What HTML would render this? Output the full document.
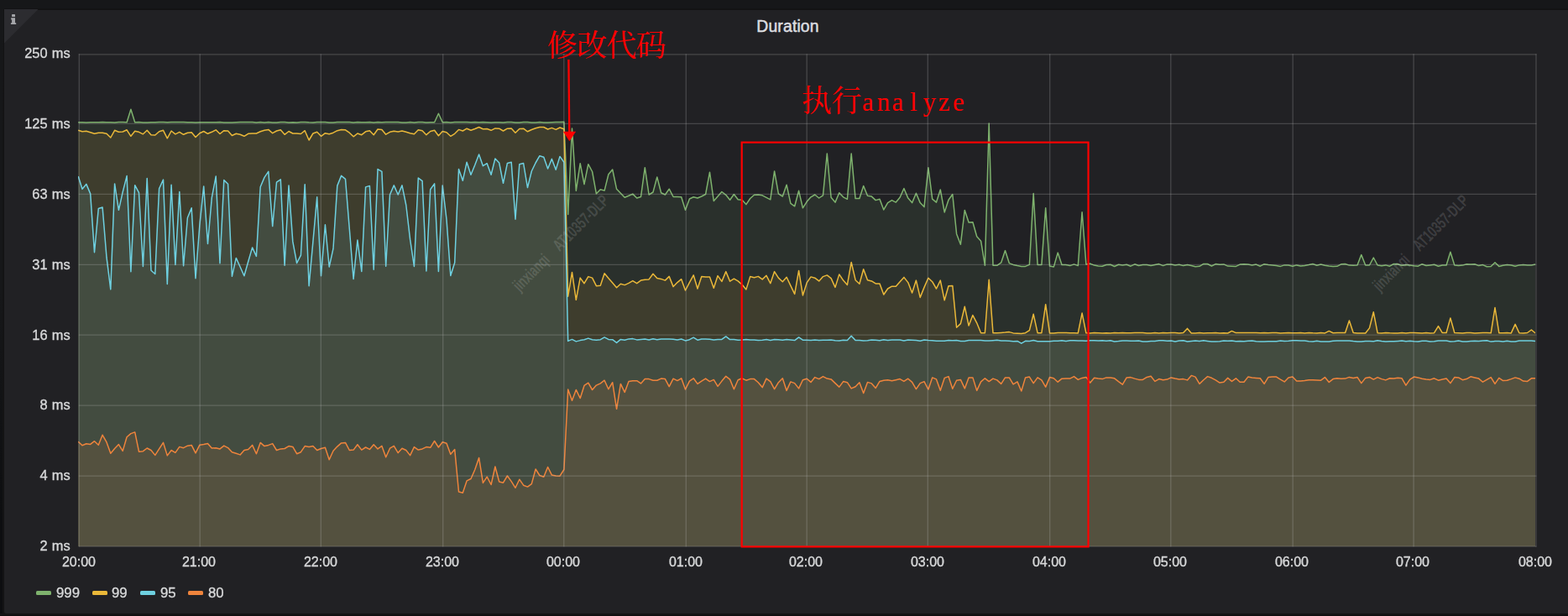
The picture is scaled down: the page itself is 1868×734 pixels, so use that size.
<!DOCTYPE html>
<html><head><meta charset="utf-8"><title>Duration</title>
<style>
html,body{margin:0;padding:0;}
body{width:1868px;height:734px;background:#161719;overflow:hidden;position:relative;font-family:"Liberation Sans",sans-serif;color:#d8d9da;}
.panel{position:absolute;left:4px;top:10px;width:1870px;height:719px;background:#212124;border:1px solid #131314;border-top-width:2px;border-radius:3px;}
.edge{position:absolute;left:0;top:0;width:3px;height:734px;background:linear-gradient(#161719 0,#161719 350px,#0d0e10 620px);}
.edge2{position:absolute;left:3px;top:0;width:2px;height:734px;background:linear-gradient(#161719 0,#161719 30px,#141415 150px);}
.edge3{position:absolute;left:0;top:731px;width:1868px;height:2px;background:#141415;}
.edgeb{position:absolute;left:0;top:733px;width:1868px;height:1px;background:#0e0e10;}
.title{position:absolute;left:0;top:20px;width:1877px;text-align:center;font-size:19.4px;line-height:22px;color:#dcdde0;-webkit-text-stroke:0.5px #dcdde0;letter-spacing:0.15px;}
.yl{-webkit-text-stroke:0.35px #d8d9da;position:absolute;left:0;width:83.6px;text-align:right;font-size:16.4px;word-spacing:0.6px;will-change:transform;line-height:18px;white-space:nowrap;}
.xl{-webkit-text-stroke:0.35px #d8d9da;will-change:transform;position:absolute;top:661px;width:80px;text-align:center;font-size:16px;line-height:18px;}
.lg{-webkit-text-stroke:0.35px #d8d9da;will-change:transform;position:absolute;top:698px;font-size:16.8px;line-height:18px;}
.sw{position:absolute;top:704px;width:18px;height:5px;border-radius:1.5px;}
</style></head><body>
<div class="edge"></div><div class="edge2"></div><div class="edge3"></div><div class="edgeb"></div><div class="panel"></div>
<svg width="1868" height="734" viewBox="0 0 1868 734" style="position:absolute;left:0;top:0">
<polygon points="5,11 45.5,11 5,51.5" fill="#2c2c30"/>
<g fill="#a4a5a9"><rect x="14.1" y="17.1" width="3.9" height="2.8" rx="0.5"/><path d="M13.2 21.2H18V27.2H19.2V29.1H12.9V27.2H14.1V23.5H13.2Z"/></g>
<clipPath id="cp"><rect x="93.0" y="63.8" width="1736.2" height="587.3"/></clipPath>
<g clip-path="url(#cp)" fill="none" stroke-linejoin="round">
<path d="M93.2 145.7 L98 145.7 L102.8 146 L107.7 145.7 L112.5 145.7 L117.3 145.8 L122.1 145.5 L127 145.7 L131.8 145.8 L136.6 145.9 L141.4 145.4 L146.2 145.6 L151.1 145.7 L155.9 130.3 L160.7 145.7 L165.5 145.4 L170.4 146 L175.2 146 L180 145.8 L184.8 145.8 L189.6 145.5 L194.5 145.4 L199.3 145.7 L204.1 145.4 L208.9 145.5 L213.8 145.5 L218.6 145.4 L223.4 145.7 L228.2 145.7 L233 145.9 L237.9 145.7 L242.7 145.8 L247.5 145.7 L252.3 145.8 L257.2 145.7 L262 145.5 L266.8 146 L271.6 146 L276.4 145.9 L281.3 145.8 L286.1 145.6 L290.9 145.5 L295.7 145.6 L300.6 145.4 L305.4 145.9 L310.2 145.6 L315 145.9 L319.8 145.6 L324.7 146 L329.5 145.9 L334.3 145.4 L339.1 145.5 L344 146 L348.8 145.7 L353.6 146 L358.4 145.6 L363.2 145.4 L368.1 145.8 L372.9 145.9 L377.7 145.5 L382.5 145.4 L387.4 145.6 L392.2 146 L397 145.9 L401.8 145.4 L406.6 145.5 L411.5 145.4 L416.3 145.4 L421.1 145.9 L425.9 145.5 L430.8 145.7 L435.6 145.7 L440.4 145.5 L445.2 145.9 L450 145.4 L454.9 145.8 L459.7 145.4 L464.5 145.6 L469.3 145.5 L474.2 145.5 L479 146 L483.8 145.9 L488.6 145.6 L493.4 146 L498.3 145.5 L503.1 145.6 L507.9 145.9 L512.7 145.8 L517.6 145.7 L522.4 135.3 L527.2 145.7 L532 145.5 L536.8 145.9 L541.7 145.6 L546.5 145.6 L551.3 145.4 L556.1 145.4 L561 145.8 L565.8 145.5 L570.6 145.8 L575.4 145.6 L580.2 145.7 L585.1 146 L589.9 145.7 L594.7 145.8 L599.5 146 L604.4 145.5 L609.2 145.5 L614 146 L618.8 145.9 L623.6 145.5 L628.5 145.5 L633.3 145.9 L638.1 146 L642.9 145.5 L647.8 146 L652.6 146 L657.4 145.8 L662.2 145.6 L667 145.4 L671.9 145.3 L676.7 255.4 L681.5 153.1 L686.3 227.3 L691.2 194.7 L696 219.5 L700.8 195.7 L705.6 204.5 L710.4 230.8 L715.3 225.8 L720.1 227.1 L724.9 207.8 L729.7 202 L734.6 225.3 L739.4 230.3 L744.2 235.3 L749 233.3 L753.8 231.1 L758.7 236 L763.5 234.5 L768.3 199.7 L773.1 232 L778 229 L782.8 210.9 L787.6 229.8 L792.4 232 L797.2 225.2 L802.1 234.5 L806.9 234.5 L811.7 234.8 L816.5 250.3 L821.4 237 L826.2 234.8 L831 236 L835.8 234 L840.6 231.5 L845.5 205.2 L850.3 239.5 L855.1 234 L859.9 228.5 L864.8 232.3 L869.6 238.3 L874.4 231.5 L879.2 237.8 L884 238.3 L888.9 243.6 L893.7 236.5 L898.5 232.3 L903.3 232 L908.2 232.8 L913 235.3 L917.8 237.8 L922.6 203.9 L927.4 230.8 L932.3 234 L937.1 220.2 L941.9 242.3 L946.7 245.8 L951.6 227.3 L956.4 247.8 L961.2 240.3 L966 234.8 L970.8 232 L975.7 236 L980.5 232.8 L985.3 183.1 L990.1 235.3 L995 241.1 L999.8 229.8 L1004.6 234.8 L1009.4 237.3 L1014.2 183.1 L1019.1 236.6 L1023.9 236.6 L1028.7 221.5 L1033.5 233.3 L1038.4 234.1 L1043.2 238.6 L1048 237.3 L1052.8 249.9 L1057.6 241.6 L1062.5 238.6 L1067.3 241.1 L1072.1 235.3 L1076.9 224.5 L1081.8 236.1 L1086.6 241.6 L1091.4 230.3 L1096.2 241.6 L1101 246.6 L1105.9 199.7 L1110.7 237.1 L1115.5 241.1 L1120.3 226 L1125.2 252.9 L1130 238.3 L1134.8 231.5 L1139.6 278.7 L1144.4 291.2 L1149.3 250.4 L1154.1 264.9 L1158.9 264.7 L1163.7 281.7 L1168.6 287.2 L1173.4 316.3 L1178.2 147 L1183 316.3 L1187.8 316.3 L1192.7 312.9 L1197.5 298.6 L1202.3 313.6 L1207.1 315.4 L1212 316.6 L1216.8 317.4 L1221.6 317.4 L1226.4 315.4 L1231.2 230.6 L1236.1 315.4 L1240.9 315.4 L1245.7 247.7 L1250.5 317.1 L1255.4 317.9 L1260.2 301.1 L1265 315.4 L1269.8 315.4 L1274.6 316.6 L1279.5 314.9 L1284.3 316.6 L1289.1 252.7 L1293.9 314.9 L1298.8 314.1 L1303.6 316.1 L1308.4 316.9 L1313.2 317.3 L1318 315.5 L1322.9 315.2 L1327.7 317.5 L1332.5 315.2 L1337.3 315.9 L1342.2 315.2 L1347 317.2 L1351.8 314.8 L1356.6 316.5 L1361.4 315.6 L1366.3 315.5 L1371.1 316.6 L1375.9 315.6 L1380.7 314.6 L1385.6 316.6 L1390.4 314.9 L1395.2 315.1 L1400 316.1 L1404.8 315.3 L1409.7 316.6 L1414.5 315.5 L1419.3 316.5 L1424.1 317.7 L1429 317.3 L1433.8 314.4 L1438.6 314.5 L1443.4 317 L1448.2 314.6 L1453.1 315.3 L1457.9 314.9 L1462.7 317.1 L1467.5 317.3 L1472.4 317.4 L1477.2 315.1 L1482 314.7 L1486.8 315.1 L1491.6 315.9 L1496.5 315.1 L1501.3 317.2 L1506.1 314.7 L1510.9 315.6 L1515.8 315.9 L1520.6 316.6 L1525.4 317.4 L1530.2 315.9 L1535 316.1 L1539.9 317.2 L1544.7 315.9 L1549.5 316.9 L1554.3 316.4 L1559.2 315.6 L1564 314.5 L1568.8 316.2 L1573.6 315.1 L1578.4 316.2 L1583.3 317 L1588.1 317.6 L1592.9 317.3 L1597.7 314.8 L1602.6 314.5 L1607.4 316.1 L1612.2 316.2 L1617 316 L1621.8 303.6 L1626.7 316 L1631.5 316 L1636.3 307 L1641.1 316 L1646 316.7 L1650.8 315.9 L1655.6 317.2 L1660.4 314.5 L1665.2 314.8 L1670.1 316.2 L1674.9 315.6 L1679.7 315.9 L1684.5 316.8 L1689.4 317.2 L1694.2 314.7 L1699 316.5 L1703.8 315.9 L1708.6 315.2 L1713.5 317.3 L1718.3 316.1 L1723.1 316 L1727.9 300.3 L1732.8 316 L1737.6 316.6 L1742.4 316.1 L1747.2 314.8 L1752 315.1 L1756.9 314.8 L1761.7 316.6 L1766.5 315.6 L1771.3 317.8 L1776.2 317.5 L1781 312.8 L1785.8 317.4 L1790.6 316.2 L1795.4 315.6 L1800.3 316.1 L1805.1 317.3 L1809.9 315.9 L1814.7 315.5 L1819.6 316.1 L1824.4 315.9 L1829.2 315.1 L1829.2 651.1 L93.2 651.1 Z" fill="#7EB26D" fill-opacity="0.104" stroke="none"/>
<path d="M93.2 145.7 L98 145.7 L102.8 146 L107.7 145.7 L112.5 145.7 L117.3 145.8 L122.1 145.5 L127 145.7 L131.8 145.8 L136.6 145.9 L141.4 145.4 L146.2 145.6 L151.1 145.7 L155.9 130.3 L160.7 145.7 L165.5 145.4 L170.4 146 L175.2 146 L180 145.8 L184.8 145.8 L189.6 145.5 L194.5 145.4 L199.3 145.7 L204.1 145.4 L208.9 145.5 L213.8 145.5 L218.6 145.4 L223.4 145.7 L228.2 145.7 L233 145.9 L237.9 145.7 L242.7 145.8 L247.5 145.7 L252.3 145.8 L257.2 145.7 L262 145.5 L266.8 146 L271.6 146 L276.4 145.9 L281.3 145.8 L286.1 145.6 L290.9 145.5 L295.7 145.6 L300.6 145.4 L305.4 145.9 L310.2 145.6 L315 145.9 L319.8 145.6 L324.7 146 L329.5 145.9 L334.3 145.4 L339.1 145.5 L344 146 L348.8 145.7 L353.6 146 L358.4 145.6 L363.2 145.4 L368.1 145.8 L372.9 145.9 L377.7 145.5 L382.5 145.4 L387.4 145.6 L392.2 146 L397 145.9 L401.8 145.4 L406.6 145.5 L411.5 145.4 L416.3 145.4 L421.1 145.9 L425.9 145.5 L430.8 145.7 L435.6 145.7 L440.4 145.5 L445.2 145.9 L450 145.4 L454.9 145.8 L459.7 145.4 L464.5 145.6 L469.3 145.5 L474.2 145.5 L479 146 L483.8 145.9 L488.6 145.6 L493.4 146 L498.3 145.5 L503.1 145.6 L507.9 145.9 L512.7 145.8 L517.6 145.7 L522.4 135.3 L527.2 145.7 L532 145.5 L536.8 145.9 L541.7 145.6 L546.5 145.6 L551.3 145.4 L556.1 145.4 L561 145.8 L565.8 145.5 L570.6 145.8 L575.4 145.6 L580.2 145.7 L585.1 146 L589.9 145.7 L594.7 145.8 L599.5 146 L604.4 145.5 L609.2 145.5 L614 146 L618.8 145.9 L623.6 145.5 L628.5 145.5 L633.3 145.9 L638.1 146 L642.9 145.5 L647.8 146 L652.6 146 L657.4 145.8 L662.2 145.6 L667 145.4 L671.9 145.3 L676.7 255.4 L681.5 153.1 L686.3 227.3 L691.2 194.7 L696 219.5 L700.8 195.7 L705.6 204.5 L710.4 230.8 L715.3 225.8 L720.1 227.1 L724.9 207.8 L729.7 202 L734.6 225.3 L739.4 230.3 L744.2 235.3 L749 233.3 L753.8 231.1 L758.7 236 L763.5 234.5 L768.3 199.7 L773.1 232 L778 229 L782.8 210.9 L787.6 229.8 L792.4 232 L797.2 225.2 L802.1 234.5 L806.9 234.5 L811.7 234.8 L816.5 250.3 L821.4 237 L826.2 234.8 L831 236 L835.8 234 L840.6 231.5 L845.5 205.2 L850.3 239.5 L855.1 234 L859.9 228.5 L864.8 232.3 L869.6 238.3 L874.4 231.5 L879.2 237.8 L884 238.3 L888.9 243.6 L893.7 236.5 L898.5 232.3 L903.3 232 L908.2 232.8 L913 235.3 L917.8 237.8 L922.6 203.9 L927.4 230.8 L932.3 234 L937.1 220.2 L941.9 242.3 L946.7 245.8 L951.6 227.3 L956.4 247.8 L961.2 240.3 L966 234.8 L970.8 232 L975.7 236 L980.5 232.8 L985.3 183.1 L990.1 235.3 L995 241.1 L999.8 229.8 L1004.6 234.8 L1009.4 237.3 L1014.2 183.1 L1019.1 236.6 L1023.9 236.6 L1028.7 221.5 L1033.5 233.3 L1038.4 234.1 L1043.2 238.6 L1048 237.3 L1052.8 249.9 L1057.6 241.6 L1062.5 238.6 L1067.3 241.1 L1072.1 235.3 L1076.9 224.5 L1081.8 236.1 L1086.6 241.6 L1091.4 230.3 L1096.2 241.6 L1101 246.6 L1105.9 199.7 L1110.7 237.1 L1115.5 241.1 L1120.3 226 L1125.2 252.9 L1130 238.3 L1134.8 231.5 L1139.6 278.7 L1144.4 291.2 L1149.3 250.4 L1154.1 264.9 L1158.9 264.7 L1163.7 281.7 L1168.6 287.2 L1173.4 316.3 L1178.2 147 L1183 316.3 L1187.8 316.3 L1192.7 312.9 L1197.5 298.6 L1202.3 313.6 L1207.1 315.4 L1212 316.6 L1216.8 317.4 L1221.6 317.4 L1226.4 315.4 L1231.2 230.6 L1236.1 315.4 L1240.9 315.4 L1245.7 247.7 L1250.5 317.1 L1255.4 317.9 L1260.2 301.1 L1265 315.4 L1269.8 315.4 L1274.6 316.6 L1279.5 314.9 L1284.3 316.6 L1289.1 252.7 L1293.9 314.9 L1298.8 314.1 L1303.6 316.1 L1308.4 316.9 L1313.2 317.3 L1318 315.5 L1322.9 315.2 L1327.7 317.5 L1332.5 315.2 L1337.3 315.9 L1342.2 315.2 L1347 317.2 L1351.8 314.8 L1356.6 316.5 L1361.4 315.6 L1366.3 315.5 L1371.1 316.6 L1375.9 315.6 L1380.7 314.6 L1385.6 316.6 L1390.4 314.9 L1395.2 315.1 L1400 316.1 L1404.8 315.3 L1409.7 316.6 L1414.5 315.5 L1419.3 316.5 L1424.1 317.7 L1429 317.3 L1433.8 314.4 L1438.6 314.5 L1443.4 317 L1448.2 314.6 L1453.1 315.3 L1457.9 314.9 L1462.7 317.1 L1467.5 317.3 L1472.4 317.4 L1477.2 315.1 L1482 314.7 L1486.8 315.1 L1491.6 315.9 L1496.5 315.1 L1501.3 317.2 L1506.1 314.7 L1510.9 315.6 L1515.8 315.9 L1520.6 316.6 L1525.4 317.4 L1530.2 315.9 L1535 316.1 L1539.9 317.2 L1544.7 315.9 L1549.5 316.9 L1554.3 316.4 L1559.2 315.6 L1564 314.5 L1568.8 316.2 L1573.6 315.1 L1578.4 316.2 L1583.3 317 L1588.1 317.6 L1592.9 317.3 L1597.7 314.8 L1602.6 314.5 L1607.4 316.1 L1612.2 316.2 L1617 316 L1621.8 303.6 L1626.7 316 L1631.5 316 L1636.3 307 L1641.1 316 L1646 316.7 L1650.8 315.9 L1655.6 317.2 L1660.4 314.5 L1665.2 314.8 L1670.1 316.2 L1674.9 315.6 L1679.7 315.9 L1684.5 316.8 L1689.4 317.2 L1694.2 314.7 L1699 316.5 L1703.8 315.9 L1708.6 315.2 L1713.5 317.3 L1718.3 316.1 L1723.1 316 L1727.9 300.3 L1732.8 316 L1737.6 316.6 L1742.4 316.1 L1747.2 314.8 L1752 315.1 L1756.9 314.8 L1761.7 316.6 L1766.5 315.6 L1771.3 317.8 L1776.2 317.5 L1781 312.8 L1785.8 317.4 L1790.6 316.2 L1795.4 315.6 L1800.3 316.1 L1805.1 317.3 L1809.9 315.9 L1814.7 315.5 L1819.6 316.1 L1824.4 315.9 L1829.2 315.1" stroke="#7EB26D" stroke-width="1.5"/>
<path d="M93.2 155.2 L98 156.8 L102.8 156.2 L107.7 157.8 L112.5 159.3 L117.3 158.2 L122.1 158.2 L127 159.3 L131.8 164 L136.6 155.3 L141.4 157.3 L146.2 157 L151.1 154.8 L155.9 162.3 L160.7 156.2 L165.5 157.3 L170.4 159.8 L175.2 155.2 L180 160.7 L184.8 161 L189.6 156.8 L194.5 155.3 L199.3 164.8 L204.1 156 L208.9 159.8 L213.8 157.3 L218.6 160.3 L223.4 158.2 L228.2 157.8 L233 163.5 L237.9 158.7 L242.7 156.5 L247.5 159.3 L252.3 157.3 L257.2 154.8 L262 159.5 L266.8 155.7 L271.6 156 L276.4 161.5 L281.3 159.3 L286.1 160.3 L290.9 162.3 L295.7 159.3 L300.6 159 L305.4 159 L310.2 156.8 L315 155.2 L319.8 154.4 L324.7 158.7 L329.5 156 L334.3 154.8 L339.1 160.3 L344 156.5 L348.8 159 L353.6 159 L358.4 159.5 L363.2 155.7 L368.1 167 L372.9 159 L377.7 157.3 L382.5 162.3 L387.4 158.7 L392.2 159.8 L397 158.2 L401.8 155.7 L406.6 154.5 L411.5 154.8 L416.3 158.2 L421.1 162.8 L425.9 159 L430.8 160.7 L435.6 156.8 L440.4 155.7 L445.2 160.7 L450 154 L454.9 154.4 L459.7 160.2 L464.5 157.3 L469.3 156.2 L474.2 157 L479 156 L483.8 157.3 L488.6 158.7 L493.4 159.8 L498.3 154.8 L503.1 155.7 L507.9 160.7 L512.7 156.5 L517.6 155.3 L522.4 161.8 L527.2 156.5 L532 157.8 L536.8 162.3 L541.7 159.3 L546.5 154.4 L551.3 156 L556.1 153.2 L561 155.2 L565.8 153.5 L570.6 151.5 L575.4 153.7 L580.2 153.5 L585.1 155.3 L589.9 152.9 L594.7 153.2 L599.5 156 L604.4 153.2 L609.2 152.9 L614 158.2 L618.8 153.5 L623.6 153.2 L628.5 156.8 L633.3 154.5 L638.1 152.7 L642.9 151.5 L647.8 151.5 L652.6 154 L657.4 152.4 L662.2 154.4 L667 152 L671.9 153.7 L676.7 353.2 L681.5 324.4 L686.3 357.3 L691.2 331.1 L696 337.7 L700.8 329.6 L705.6 331.1 L710.4 340.7 L715.3 340.2 L720.1 325.8 L724.9 331.6 L729.7 336.9 L734.6 342.7 L739.4 338.2 L744.2 339.6 L749 337.4 L753.8 334.6 L758.7 337.7 L763.5 334.1 L768.3 333.2 L773.1 332.9 L778 326.3 L782.8 331.6 L787.6 332.4 L792.4 334.1 L797.2 329.4 L802.1 341.6 L806.9 336.6 L811.7 332.7 L816.5 346 L821.4 336.6 L826.2 327.8 L831 344 L835.8 329.4 L840.6 329.9 L845.5 329.9 L850.3 343.2 L855.1 328.6 L859.9 335.4 L864.8 323.6 L869.6 335.2 L874.4 332.1 L879.2 334.9 L884 339.1 L888.9 344.9 L893.7 329.6 L898.5 330.8 L903.3 329.4 L908.2 332.9 L913 328.3 L917.8 337.7 L922.6 323.6 L927.4 331.1 L932.3 335.7 L937.1 330.3 L941.9 340.4 L946.7 350.4 L951.6 322.4 L956.4 351.9 L961.2 336.9 L966 329.9 L970.8 331.2 L975.7 334.9 L980.5 329.6 L985.3 327.9 L990.1 331.6 L995 342.4 L999.8 326.9 L1004.6 334.1 L1009.4 339.4 L1014.2 312.5 L1019.1 333.7 L1023.9 338.2 L1028.7 320.8 L1033.5 333.7 L1038.4 334.9 L1043.2 337.9 L1048 337.9 L1052.8 351 L1057.6 344 L1062.5 341.2 L1067.3 341.2 L1072.1 335.7 L1076.9 330.4 L1081.8 336.6 L1086.6 349 L1091.4 334.1 L1096.2 354.4 L1101 342.4 L1105.9 331.2 L1110.7 335.7 L1115.5 344 L1120.3 334.1 L1125.2 357.8 L1130 340.7 L1134.8 340.4 L1139.6 390.3 L1144.4 385.6 L1149.3 365.3 L1154.1 388.1 L1158.9 375.6 L1163.7 384.8 L1168.6 396.7 L1173.4 396.7 L1178.2 333.2 L1183 396.7 L1187.8 396.7 L1192.7 396.4 L1197.5 396.1 L1202.3 395.6 L1207.1 396.9 L1212 397.2 L1216.8 397.6 L1221.6 396.7 L1226.4 393.6 L1231.2 374.3 L1236.1 396.7 L1240.9 396.7 L1245.7 362.7 L1250.5 396.9 L1255.4 396.9 L1260.2 396.4 L1265 396.6 L1269.8 396.4 L1274.6 396.8 L1279.5 396.8 L1284.3 396.9 L1289.1 373.1 L1293.9 396.8 L1298.8 397 L1303.6 396.4 L1308.4 396.7 L1313.2 397 L1318 396.8 L1322.9 396.9 L1327.7 396.5 L1332.5 396.7 L1337.3 396.5 L1342.2 396.7 L1347 396.7 L1351.8 396.4 L1356.6 396.5 L1361.4 396.6 L1366.3 396.9 L1371.1 396.9 L1375.9 396.5 L1380.7 396.9 L1385.6 396.5 L1390.4 396.8 L1395.2 396.5 L1400 396.4 L1404.8 396.9 L1409.7 396.5 L1414.5 391.4 L1419.3 397 L1424.1 396.9 L1429 396.6 L1433.8 397 L1438.6 396.7 L1443.4 396.8 L1448.2 396.5 L1453.1 397 L1457.9 396.8 L1462.7 397 L1467.5 394.4 L1472.4 396.6 L1477.2 396.6 L1482 396.5 L1486.8 396.5 L1491.6 396.4 L1496.5 396.6 L1501.3 396.8 L1506.1 396.4 L1510.9 396.8 L1515.8 396.6 L1520.6 396.6 L1525.4 396.9 L1530.2 396.7 L1535 396.6 L1539.9 396.7 L1544.7 396.8 L1549.5 396.4 L1554.3 397 L1559.2 396.4 L1564 396.8 L1568.8 396.9 L1573.6 396.4 L1578.4 396.9 L1583.3 394.4 L1588.1 396.7 L1592.9 396.4 L1597.7 396.4 L1602.6 396.5 L1607.4 381.9 L1612.2 396.5 L1617 396.9 L1621.8 397 L1626.7 397 L1631.5 390.9 L1636.3 371.8 L1641.1 396.7 L1646 396.9 L1650.8 396.5 L1655.6 396.8 L1660.4 396.9 L1665.2 396.9 L1670.1 396.4 L1674.9 397 L1679.7 396.5 L1684.5 396.6 L1689.4 396.8 L1694.2 397 L1699 396.6 L1703.8 397 L1708.6 396.7 L1713.5 388.6 L1718.3 396.6 L1723.1 396.5 L1727.9 378.9 L1732.8 396.5 L1737.6 396.8 L1742.4 397 L1747.2 396.5 L1752 396.4 L1756.9 397 L1761.7 396.7 L1766.5 396.6 L1771.3 396.5 L1776.2 396.8 L1781 366.5 L1785.8 396.7 L1790.6 396.7 L1795.4 396.4 L1800.3 396.9 L1805.1 386.4 L1809.9 396.7 L1814.7 396.9 L1819.6 396.5 L1824.4 393 L1829.2 397 L1829.2 651.1 L93.2 651.1 Z" fill="#EAB839" fill-opacity="0.104" stroke="none"/>
<path d="M93.2 155.2 L98 156.8 L102.8 156.2 L107.7 157.8 L112.5 159.3 L117.3 158.2 L122.1 158.2 L127 159.3 L131.8 164 L136.6 155.3 L141.4 157.3 L146.2 157 L151.1 154.8 L155.9 162.3 L160.7 156.2 L165.5 157.3 L170.4 159.8 L175.2 155.2 L180 160.7 L184.8 161 L189.6 156.8 L194.5 155.3 L199.3 164.8 L204.1 156 L208.9 159.8 L213.8 157.3 L218.6 160.3 L223.4 158.2 L228.2 157.8 L233 163.5 L237.9 158.7 L242.7 156.5 L247.5 159.3 L252.3 157.3 L257.2 154.8 L262 159.5 L266.8 155.7 L271.6 156 L276.4 161.5 L281.3 159.3 L286.1 160.3 L290.9 162.3 L295.7 159.3 L300.6 159 L305.4 159 L310.2 156.8 L315 155.2 L319.8 154.4 L324.7 158.7 L329.5 156 L334.3 154.8 L339.1 160.3 L344 156.5 L348.8 159 L353.6 159 L358.4 159.5 L363.2 155.7 L368.1 167 L372.9 159 L377.7 157.3 L382.5 162.3 L387.4 158.7 L392.2 159.8 L397 158.2 L401.8 155.7 L406.6 154.5 L411.5 154.8 L416.3 158.2 L421.1 162.8 L425.9 159 L430.8 160.7 L435.6 156.8 L440.4 155.7 L445.2 160.7 L450 154 L454.9 154.4 L459.7 160.2 L464.5 157.3 L469.3 156.2 L474.2 157 L479 156 L483.8 157.3 L488.6 158.7 L493.4 159.8 L498.3 154.8 L503.1 155.7 L507.9 160.7 L512.7 156.5 L517.6 155.3 L522.4 161.8 L527.2 156.5 L532 157.8 L536.8 162.3 L541.7 159.3 L546.5 154.4 L551.3 156 L556.1 153.2 L561 155.2 L565.8 153.5 L570.6 151.5 L575.4 153.7 L580.2 153.5 L585.1 155.3 L589.9 152.9 L594.7 153.2 L599.5 156 L604.4 153.2 L609.2 152.9 L614 158.2 L618.8 153.5 L623.6 153.2 L628.5 156.8 L633.3 154.5 L638.1 152.7 L642.9 151.5 L647.8 151.5 L652.6 154 L657.4 152.4 L662.2 154.4 L667 152 L671.9 153.7 L676.7 353.2 L681.5 324.4 L686.3 357.3 L691.2 331.1 L696 337.7 L700.8 329.6 L705.6 331.1 L710.4 340.7 L715.3 340.2 L720.1 325.8 L724.9 331.6 L729.7 336.9 L734.6 342.7 L739.4 338.2 L744.2 339.6 L749 337.4 L753.8 334.6 L758.7 337.7 L763.5 334.1 L768.3 333.2 L773.1 332.9 L778 326.3 L782.8 331.6 L787.6 332.4 L792.4 334.1 L797.2 329.4 L802.1 341.6 L806.9 336.6 L811.7 332.7 L816.5 346 L821.4 336.6 L826.2 327.8 L831 344 L835.8 329.4 L840.6 329.9 L845.5 329.9 L850.3 343.2 L855.1 328.6 L859.9 335.4 L864.8 323.6 L869.6 335.2 L874.4 332.1 L879.2 334.9 L884 339.1 L888.9 344.9 L893.7 329.6 L898.5 330.8 L903.3 329.4 L908.2 332.9 L913 328.3 L917.8 337.7 L922.6 323.6 L927.4 331.1 L932.3 335.7 L937.1 330.3 L941.9 340.4 L946.7 350.4 L951.6 322.4 L956.4 351.9 L961.2 336.9 L966 329.9 L970.8 331.2 L975.7 334.9 L980.5 329.6 L985.3 327.9 L990.1 331.6 L995 342.4 L999.8 326.9 L1004.6 334.1 L1009.4 339.4 L1014.2 312.5 L1019.1 333.7 L1023.9 338.2 L1028.7 320.8 L1033.5 333.7 L1038.4 334.9 L1043.2 337.9 L1048 337.9 L1052.8 351 L1057.6 344 L1062.5 341.2 L1067.3 341.2 L1072.1 335.7 L1076.9 330.4 L1081.8 336.6 L1086.6 349 L1091.4 334.1 L1096.2 354.4 L1101 342.4 L1105.9 331.2 L1110.7 335.7 L1115.5 344 L1120.3 334.1 L1125.2 357.8 L1130 340.7 L1134.8 340.4 L1139.6 390.3 L1144.4 385.6 L1149.3 365.3 L1154.1 388.1 L1158.9 375.6 L1163.7 384.8 L1168.6 396.7 L1173.4 396.7 L1178.2 333.2 L1183 396.7 L1187.8 396.7 L1192.7 396.4 L1197.5 396.1 L1202.3 395.6 L1207.1 396.9 L1212 397.2 L1216.8 397.6 L1221.6 396.7 L1226.4 393.6 L1231.2 374.3 L1236.1 396.7 L1240.9 396.7 L1245.7 362.7 L1250.5 396.9 L1255.4 396.9 L1260.2 396.4 L1265 396.6 L1269.8 396.4 L1274.6 396.8 L1279.5 396.8 L1284.3 396.9 L1289.1 373.1 L1293.9 396.8 L1298.8 397 L1303.6 396.4 L1308.4 396.7 L1313.2 397 L1318 396.8 L1322.9 396.9 L1327.7 396.5 L1332.5 396.7 L1337.3 396.5 L1342.2 396.7 L1347 396.7 L1351.8 396.4 L1356.6 396.5 L1361.4 396.6 L1366.3 396.9 L1371.1 396.9 L1375.9 396.5 L1380.7 396.9 L1385.6 396.5 L1390.4 396.8 L1395.2 396.5 L1400 396.4 L1404.8 396.9 L1409.7 396.5 L1414.5 391.4 L1419.3 397 L1424.1 396.9 L1429 396.6 L1433.8 397 L1438.6 396.7 L1443.4 396.8 L1448.2 396.5 L1453.1 397 L1457.9 396.8 L1462.7 397 L1467.5 394.4 L1472.4 396.6 L1477.2 396.6 L1482 396.5 L1486.8 396.5 L1491.6 396.4 L1496.5 396.6 L1501.3 396.8 L1506.1 396.4 L1510.9 396.8 L1515.8 396.6 L1520.6 396.6 L1525.4 396.9 L1530.2 396.7 L1535 396.6 L1539.9 396.7 L1544.7 396.8 L1549.5 396.4 L1554.3 397 L1559.2 396.4 L1564 396.8 L1568.8 396.9 L1573.6 396.4 L1578.4 396.9 L1583.3 394.4 L1588.1 396.7 L1592.9 396.4 L1597.7 396.4 L1602.6 396.5 L1607.4 381.9 L1612.2 396.5 L1617 396.9 L1621.8 397 L1626.7 397 L1631.5 390.9 L1636.3 371.8 L1641.1 396.7 L1646 396.9 L1650.8 396.5 L1655.6 396.8 L1660.4 396.9 L1665.2 396.9 L1670.1 396.4 L1674.9 397 L1679.7 396.5 L1684.5 396.6 L1689.4 396.8 L1694.2 397 L1699 396.6 L1703.8 397 L1708.6 396.7 L1713.5 388.6 L1718.3 396.6 L1723.1 396.5 L1727.9 378.9 L1732.8 396.5 L1737.6 396.8 L1742.4 397 L1747.2 396.5 L1752 396.4 L1756.9 397 L1761.7 396.7 L1766.5 396.6 L1771.3 396.5 L1776.2 396.8 L1781 366.5 L1785.8 396.7 L1790.6 396.7 L1795.4 396.4 L1800.3 396.9 L1805.1 386.4 L1809.9 396.7 L1814.7 396.9 L1819.6 396.5 L1824.4 393 L1829.2 397" stroke="#EAB839" stroke-width="1.5"/>
<path d="M93.2 210.1 L98 225.2 L102.8 219.4 L107.7 230.9 L112.5 300.7 L117.3 248.5 L122.1 247 L127 306.7 L131.8 344.8 L136.6 218.9 L141.4 250.3 L146.2 228.9 L151.1 209.6 L155.9 323.7 L160.7 220.7 L165.5 229.7 L170.4 317.5 L175.2 212.6 L180 322.2 L184.8 326.5 L189.6 224.7 L194.5 214.1 L199.3 338.5 L204.1 220.2 L208.9 315.5 L213.8 228.4 L218.6 316.7 L223.4 259.5 L228.2 247.8 L233 331.8 L237.9 267.8 L242.7 221.9 L247.5 290.4 L252.3 235.7 L257.2 210.1 L262 313.7 L266.8 214.6 L271.6 219.2 L276.4 329.3 L281.3 307.4 L286.1 318 L290.9 328.8 L295.7 311.7 L300.6 294.9 L305.4 305.4 L310.2 222.7 L315 211.4 L319.8 204.4 L324.7 269.6 L329.5 217.2 L334.3 213.9 L339.1 316.2 L344 220.9 L348.8 287.9 L353.6 313.5 L358.4 304.2 L363.2 219.7 L368.1 340.8 L372.9 287.9 L377.7 234.7 L382.5 328.8 L387.4 267.8 L392.2 318 L397 296.2 L401.8 221.4 L406.6 209.4 L411.5 213.4 L416.3 272.8 L421.1 332.5 L425.9 286.1 L430.8 323.5 L435.6 222.9 L440.4 221.4 L445.2 321.2 L450 201.6 L454.9 204.4 L459.7 317.2 L464.5 232 L469.3 220.9 L474.2 232 L479 220.9 L483.8 244.5 L488.6 285.4 L493.4 317.5 L498.3 212.1 L503.1 215.6 L507.9 323 L512.7 225.7 L517.6 218.9 L522.4 323.5 L527.2 220.9 L532 261.5 L536.8 328.5 L541.7 313 L546.5 201.5 L551.3 215.3 L556.1 193.2 L561 208.3 L565.8 196.5 L570.6 183.9 L575.4 197.7 L580.2 194.7 L585.1 208.3 L589.9 188.9 L594.7 194 L599.5 218.3 L604.4 194.5 L609.2 193.2 L614 261.2 L618.8 195.7 L623.6 194.5 L628.5 223.6 L633.3 204 L638.1 194 L642.9 185.7 L647.8 187.2 L652.6 201 L657.4 189.4 L662.2 202.2 L667 186.4 L671.9 193.2 L676.7 406.4 L681.5 404.4 L686.3 406.9 L691.2 405.6 L696 404.7 L700.8 403.1 L705.6 404.7 L710.4 405.2 L715.3 404.7 L720.1 401.9 L724.9 404.4 L729.7 404.7 L734.6 408.4 L739.4 404.4 L744.2 405.2 L749 403.9 L753.8 403.6 L758.7 404.9 L763.5 404.4 L768.3 404.1 L773.1 405 L778 403.7 L782.8 404.8 L787.6 404.1 L792.4 403.9 L797.2 403.9 L802.1 404.2 L806.9 404.9 L811.7 404 L816.5 405.9 L821.4 404.7 L826.2 402.2 L831 405.2 L835.8 404 L840.6 404 L845.5 404.2 L850.3 404.9 L855.1 404.5 L859.9 404.4 L864.8 400.9 L869.6 404.6 L874.4 404.4 L879.2 405.2 L884 405 L888.9 404.4 L893.7 404.9 L898.5 404.9 L903.3 405.4 L908.2 405.2 L913 404.6 L917.8 405.6 L922.6 404.4 L927.4 404.8 L932.3 405.3 L937.1 404.5 L941.9 405 L946.7 405.6 L951.6 401.9 L956.4 405.2 L961.2 405.2 L966 405.6 L970.8 404.9 L975.7 405.4 L980.5 405.3 L985.3 405.3 L990.1 405.1 L995 405.7 L999.8 405.9 L1004.6 405.2 L1009.4 405.5 L1014.2 400.2 L1019.1 405.6 L1023.9 405.6 L1028.7 406.1 L1033.5 405.8 L1038.4 405.1 L1043.2 405.3 L1048 405.7 L1052.8 404.8 L1057.6 405.4 L1062.5 405 L1067.3 405 L1072.1 404.9 L1076.9 405.9 L1081.8 405.1 L1086.6 405.3 L1091.4 405.5 L1096.2 406.2 L1101 405.1 L1105.9 405.6 L1110.7 405.8 L1115.5 406.3 L1120.3 406.2 L1125.2 406.3 L1130 405.5 L1134.8 405.7 L1139.6 405.6 L1144.4 406.4 L1149.3 406.5 L1154.1 405.4 L1158.9 405.5 L1163.7 405.6 L1168.6 405.6 L1173.4 406 L1178.2 406.1 L1183 405.7 L1187.8 405.3 L1192.7 405.9 L1197.5 405.9 L1202.3 406.2 L1207.1 406.8 L1212 406.4 L1216.8 409.2 L1221.6 406.3 L1226.4 406.4 L1231.2 405.6 L1236.1 406.8 L1240.9 406.7 L1245.7 406.8 L1250.5 406.7 L1255.4 406.2 L1260.2 406.2 L1265 405.8 L1269.8 406.6 L1274.6 405.8 L1279.5 405.8 L1284.3 406 L1289.1 405.9 L1293.9 406.2 L1298.8 405.8 L1303.6 405.7 L1308.4 405.9 L1313.2 405.8 L1318 406.2 L1322.9 405.7 L1327.7 406.9 L1332.5 406.6 L1337.3 405.9 L1342.2 406.1 L1347 406.2 L1351.8 406.2 L1356.6 405.9 L1361.4 406.9 L1366.3 407.1 L1371.1 406.4 L1375.9 406.4 L1380.7 405.8 L1385.6 405.8 L1390.4 406.2 L1395.2 406.1 L1400 406.9 L1404.8 405.9 L1409.7 405.7 L1414.5 407 L1419.3 406.4 L1424.1 405.9 L1429 406.5 L1433.8 405.7 L1438.6 406.4 L1443.4 407.1 L1448.2 406.9 L1453.1 406.7 L1457.9 406.1 L1462.7 406.2 L1467.5 405.9 L1472.4 406.8 L1477.2 406.4 L1482 406.8 L1486.8 406.2 L1491.6 406 L1496.5 406.8 L1501.3 407.1 L1506.1 406.9 L1510.9 406.8 L1515.8 406.8 L1520.6 406.7 L1525.4 406 L1530.2 406.4 L1535 406.2 L1539.9 405.7 L1544.7 405.7 L1549.5 406.1 L1554.3 406.1 L1559.2 406.7 L1564 407 L1568.8 406.3 L1573.6 407 L1578.4 407.1 L1583.3 407 L1588.1 406.2 L1592.9 406 L1597.7 406 L1602.6 406 L1607.4 406 L1612.2 406.6 L1617 407 L1621.8 406.9 L1626.7 406.4 L1631.5 406.6 L1636.3 406.8 L1641.1 405.8 L1646 406.6 L1650.8 407 L1655.6 406.8 L1660.4 406.8 L1665.2 406.4 L1670.1 405.9 L1674.9 406.8 L1679.7 406.2 L1684.5 406.8 L1689.4 407.1 L1694.2 406.3 L1699 406.3 L1703.8 407 L1708.6 406.7 L1713.5 405.9 L1718.3 405.9 L1723.1 405.9 L1727.9 407 L1732.8 406.8 L1737.6 405.9 L1742.4 406.9 L1747.2 407.1 L1752 406.6 L1756.9 406.2 L1761.7 406.5 L1766.5 405.9 L1771.3 405.7 L1776.2 407.1 L1781 406.6 L1785.8 406.4 L1790.6 407 L1795.4 406.3 L1800.3 406.9 L1805.1 406.9 L1809.9 406 L1814.7 406.1 L1819.6 406.1 L1824.4 406 L1829.2 406.5 L1829.2 651.1 L93.2 651.1 Z" fill="#6ED0E0" fill-opacity="0.104" stroke="none"/>
<path d="M93.2 210.1 L98 225.2 L102.8 219.4 L107.7 230.9 L112.5 300.7 L117.3 248.5 L122.1 247 L127 306.7 L131.8 344.8 L136.6 218.9 L141.4 250.3 L146.2 228.9 L151.1 209.6 L155.9 323.7 L160.7 220.7 L165.5 229.7 L170.4 317.5 L175.2 212.6 L180 322.2 L184.8 326.5 L189.6 224.7 L194.5 214.1 L199.3 338.5 L204.1 220.2 L208.9 315.5 L213.8 228.4 L218.6 316.7 L223.4 259.5 L228.2 247.8 L233 331.8 L237.9 267.8 L242.7 221.9 L247.5 290.4 L252.3 235.7 L257.2 210.1 L262 313.7 L266.8 214.6 L271.6 219.2 L276.4 329.3 L281.3 307.4 L286.1 318 L290.9 328.8 L295.7 311.7 L300.6 294.9 L305.4 305.4 L310.2 222.7 L315 211.4 L319.8 204.4 L324.7 269.6 L329.5 217.2 L334.3 213.9 L339.1 316.2 L344 220.9 L348.8 287.9 L353.6 313.5 L358.4 304.2 L363.2 219.7 L368.1 340.8 L372.9 287.9 L377.7 234.7 L382.5 328.8 L387.4 267.8 L392.2 318 L397 296.2 L401.8 221.4 L406.6 209.4 L411.5 213.4 L416.3 272.8 L421.1 332.5 L425.9 286.1 L430.8 323.5 L435.6 222.9 L440.4 221.4 L445.2 321.2 L450 201.6 L454.9 204.4 L459.7 317.2 L464.5 232 L469.3 220.9 L474.2 232 L479 220.9 L483.8 244.5 L488.6 285.4 L493.4 317.5 L498.3 212.1 L503.1 215.6 L507.9 323 L512.7 225.7 L517.6 218.9 L522.4 323.5 L527.2 220.9 L532 261.5 L536.8 328.5 L541.7 313 L546.5 201.5 L551.3 215.3 L556.1 193.2 L561 208.3 L565.8 196.5 L570.6 183.9 L575.4 197.7 L580.2 194.7 L585.1 208.3 L589.9 188.9 L594.7 194 L599.5 218.3 L604.4 194.5 L609.2 193.2 L614 261.2 L618.8 195.7 L623.6 194.5 L628.5 223.6 L633.3 204 L638.1 194 L642.9 185.7 L647.8 187.2 L652.6 201 L657.4 189.4 L662.2 202.2 L667 186.4 L671.9 193.2 L676.7 406.4 L681.5 404.4 L686.3 406.9 L691.2 405.6 L696 404.7 L700.8 403.1 L705.6 404.7 L710.4 405.2 L715.3 404.7 L720.1 401.9 L724.9 404.4 L729.7 404.7 L734.6 408.4 L739.4 404.4 L744.2 405.2 L749 403.9 L753.8 403.6 L758.7 404.9 L763.5 404.4 L768.3 404.1 L773.1 405 L778 403.7 L782.8 404.8 L787.6 404.1 L792.4 403.9 L797.2 403.9 L802.1 404.2 L806.9 404.9 L811.7 404 L816.5 405.9 L821.4 404.7 L826.2 402.2 L831 405.2 L835.8 404 L840.6 404 L845.5 404.2 L850.3 404.9 L855.1 404.5 L859.9 404.4 L864.8 400.9 L869.6 404.6 L874.4 404.4 L879.2 405.2 L884 405 L888.9 404.4 L893.7 404.9 L898.5 404.9 L903.3 405.4 L908.2 405.2 L913 404.6 L917.8 405.6 L922.6 404.4 L927.4 404.8 L932.3 405.3 L937.1 404.5 L941.9 405 L946.7 405.6 L951.6 401.9 L956.4 405.2 L961.2 405.2 L966 405.6 L970.8 404.9 L975.7 405.4 L980.5 405.3 L985.3 405.3 L990.1 405.1 L995 405.7 L999.8 405.9 L1004.6 405.2 L1009.4 405.5 L1014.2 400.2 L1019.1 405.6 L1023.9 405.6 L1028.7 406.1 L1033.5 405.8 L1038.4 405.1 L1043.2 405.3 L1048 405.7 L1052.8 404.8 L1057.6 405.4 L1062.5 405 L1067.3 405 L1072.1 404.9 L1076.9 405.9 L1081.8 405.1 L1086.6 405.3 L1091.4 405.5 L1096.2 406.2 L1101 405.1 L1105.9 405.6 L1110.7 405.8 L1115.5 406.3 L1120.3 406.2 L1125.2 406.3 L1130 405.5 L1134.8 405.7 L1139.6 405.6 L1144.4 406.4 L1149.3 406.5 L1154.1 405.4 L1158.9 405.5 L1163.7 405.6 L1168.6 405.6 L1173.4 406 L1178.2 406.1 L1183 405.7 L1187.8 405.3 L1192.7 405.9 L1197.5 405.9 L1202.3 406.2 L1207.1 406.8 L1212 406.4 L1216.8 409.2 L1221.6 406.3 L1226.4 406.4 L1231.2 405.6 L1236.1 406.8 L1240.9 406.7 L1245.7 406.8 L1250.5 406.7 L1255.4 406.2 L1260.2 406.2 L1265 405.8 L1269.8 406.6 L1274.6 405.8 L1279.5 405.8 L1284.3 406 L1289.1 405.9 L1293.9 406.2 L1298.8 405.8 L1303.6 405.7 L1308.4 405.9 L1313.2 405.8 L1318 406.2 L1322.9 405.7 L1327.7 406.9 L1332.5 406.6 L1337.3 405.9 L1342.2 406.1 L1347 406.2 L1351.8 406.2 L1356.6 405.9 L1361.4 406.9 L1366.3 407.1 L1371.1 406.4 L1375.9 406.4 L1380.7 405.8 L1385.6 405.8 L1390.4 406.2 L1395.2 406.1 L1400 406.9 L1404.8 405.9 L1409.7 405.7 L1414.5 407 L1419.3 406.4 L1424.1 405.9 L1429 406.5 L1433.8 405.7 L1438.6 406.4 L1443.4 407.1 L1448.2 406.9 L1453.1 406.7 L1457.9 406.1 L1462.7 406.2 L1467.5 405.9 L1472.4 406.8 L1477.2 406.4 L1482 406.8 L1486.8 406.2 L1491.6 406 L1496.5 406.8 L1501.3 407.1 L1506.1 406.9 L1510.9 406.8 L1515.8 406.8 L1520.6 406.7 L1525.4 406 L1530.2 406.4 L1535 406.2 L1539.9 405.7 L1544.7 405.7 L1549.5 406.1 L1554.3 406.1 L1559.2 406.7 L1564 407 L1568.8 406.3 L1573.6 407 L1578.4 407.1 L1583.3 407 L1588.1 406.2 L1592.9 406 L1597.7 406 L1602.6 406 L1607.4 406 L1612.2 406.6 L1617 407 L1621.8 406.9 L1626.7 406.4 L1631.5 406.6 L1636.3 406.8 L1641.1 405.8 L1646 406.6 L1650.8 407 L1655.6 406.8 L1660.4 406.8 L1665.2 406.4 L1670.1 405.9 L1674.9 406.8 L1679.7 406.2 L1684.5 406.8 L1689.4 407.1 L1694.2 406.3 L1699 406.3 L1703.8 407 L1708.6 406.7 L1713.5 405.9 L1718.3 405.9 L1723.1 405.9 L1727.9 407 L1732.8 406.8 L1737.6 405.9 L1742.4 406.9 L1747.2 407.1 L1752 406.6 L1756.9 406.2 L1761.7 406.5 L1766.5 405.9 L1771.3 405.7 L1776.2 407.1 L1781 406.6 L1785.8 406.4 L1790.6 407 L1795.4 406.3 L1800.3 406.9 L1805.1 406.9 L1809.9 406 L1814.7 406.1 L1819.6 406.1 L1824.4 406 L1829.2 406.5" stroke="#6ED0E0" stroke-width="1.5"/>
<path d="M93.2 526.2 L98 530.7 L102.8 528.7 L107.7 529.4 L112.5 525.7 L117.3 530.2 L122.1 518.3 L127 526.9 L131.8 540.2 L136.6 534.5 L141.4 529.6 L146.2 537.4 L151.1 520.8 L155.9 516.6 L160.7 514.9 L165.5 538.2 L170.4 537.7 L175.2 534 L180 536.5 L184.8 542.4 L189.6 534.9 L194.5 527.4 L199.3 542.9 L204.1 536.5 L208.9 539.4 L213.8 532.4 L218.6 533.7 L223.4 531.2 L228.2 530.4 L233 539.9 L237.9 530.2 L242.7 529.6 L247.5 528.6 L252.3 534 L257.2 533.7 L262 534.9 L266.8 531.1 L271.6 533.6 L276.4 538.7 L281.3 540.2 L286.1 541.9 L290.9 536.5 L295.7 535.4 L300.6 530.4 L305.4 540.7 L310.2 527.4 L315 531.6 L319.8 530.4 L324.7 528.6 L329.5 536.5 L334.3 534.9 L339.1 534.5 L344 531.6 L348.8 532.4 L353.6 540.7 L358.4 538.7 L363.2 531.6 L368.1 532.4 L372.9 531.6 L377.7 536.5 L382.5 534.5 L387.4 533.2 L392.2 547.8 L397 537.2 L401.8 532.1 L406.6 527.9 L411.5 527.4 L416.3 536.5 L421.1 536.1 L425.9 529.7 L430.8 536.1 L435.6 533 L440.4 535.4 L445.2 529.7 L450 534.9 L454.9 531.4 L459.7 544.7 L464.5 534.2 L469.3 531.4 L474.2 539.6 L479 534.2 L483.8 536.5 L488.6 542.6 L493.4 532.6 L498.3 536.1 L503.1 534.9 L507.9 532.6 L512.7 533.3 L517.6 525.5 L522.4 533 L527.2 526.7 L532 528.3 L536.8 541.2 L541.7 535.6 L546.5 586 L551.3 587.2 L556.1 572.9 L561 570.5 L565.8 559.5 L570.6 545.4 L575.4 575.4 L580.2 568.2 L585.1 577.5 L589.9 556 L594.7 574 L599.5 575.2 L604.4 567 L609.2 573.6 L614 581.3 L618.8 571.2 L623.6 578.2 L628.5 580.1 L633.3 576.6 L638.1 559 L642.9 566.5 L647.8 568.2 L652.6 556.5 L657.4 566.1 L662.2 567 L667 567.2 L671.9 559.5 L676.7 464 L681.5 477.3 L686.3 464.4 L691.2 474.5 L696 459.4 L700.8 456.2 L705.6 464.5 L710.4 459.1 L715.3 456.9 L720.1 453.2 L724.9 463.7 L729.7 455.7 L734.6 487.3 L739.4 457.4 L744.2 467.4 L749 454.6 L753.8 453.7 L758.7 453.7 L763.5 456.9 L768.3 451.6 L773.1 451.6 L778 453.2 L782.8 453.2 L787.6 451.1 L792.4 451.6 L797.2 460.7 L802.1 451.2 L806.9 453.6 L811.7 450.8 L816.5 464 L821.4 454.1 L826.2 450.8 L831 457.4 L835.8 454.1 L840.6 451.1 L845.5 454.6 L850.3 452.4 L855.1 460.4 L859.9 454.1 L864.8 448.3 L869.6 452.1 L874.4 463.7 L879.2 452.7 L884 450.8 L888.9 453.2 L893.7 451.6 L898.5 451.6 L903.3 455.7 L908.2 461.6 L913 451.1 L917.8 454.6 L922.6 463.6 L927.4 455.7 L932.3 450.8 L937.1 465.4 L941.9 454.9 L946.7 456.6 L951.6 462.9 L956.4 452.7 L961.2 451.2 L966 455.4 L970.8 449.6 L975.7 451.6 L980.5 448.6 L985.3 451.1 L990.1 451.9 L995 456.6 L999.8 461.1 L1004.6 454.6 L1009.4 455.7 L1014.2 462.9 L1019.1 460.7 L1023.9 455.7 L1028.7 468.5 L1033.5 455.4 L1038.4 456.9 L1043.2 462.4 L1048 454.4 L1052.8 453.2 L1057.6 452.7 L1062.5 453.7 L1067.3 452.7 L1072.1 451.6 L1076.9 454.4 L1081.8 451.2 L1086.6 455.4 L1091.4 463.6 L1096.2 456.6 L1101 454.6 L1105.9 464 L1110.7 449.9 L1115.5 451.9 L1120.3 465.2 L1125.2 450.4 L1130 448.6 L1134.8 463.2 L1139.6 453.2 L1144.4 452.4 L1149.3 462.9 L1154.1 449.9 L1158.9 449.9 L1163.7 465.4 L1168.6 454.9 L1173.4 450.8 L1178.2 454.6 L1183 451.1 L1187.8 452.9 L1192.7 457.4 L1197.5 449.9 L1202.3 449.9 L1207.1 457.9 L1212 454.9 L1216.8 466 L1221.6 449.9 L1226.4 449.1 L1231.2 456.6 L1236.1 449.9 L1240.9 452.9 L1245.7 461.1 L1250.5 449.6 L1255.4 450.8 L1260.2 455.2 L1265 451.2 L1269.8 451.1 L1274.6 451.1 L1279.5 448.6 L1284.3 452.4 L1289.1 450.4 L1293.9 449.4 L1298.8 456.1 L1303.6 450.3 L1308.4 451.1 L1313.2 451.6 L1318 449.9 L1322.9 449.9 L1327.7 450.8 L1332.5 454.6 L1337.3 458.2 L1342.2 449.9 L1347 449.6 L1351.8 451.1 L1356.6 452.4 L1361.4 452.4 L1366.3 449.4 L1371.1 448.3 L1375.9 454.4 L1380.7 451.6 L1385.6 452.7 L1390.4 452.1 L1395.2 449.9 L1400 451.1 L1404.8 452.1 L1409.7 451.6 L1414.5 452.9 L1419.3 447.4 L1424.1 449.1 L1429 457.4 L1433.8 452.7 L1438.6 448.6 L1443.4 450.3 L1448.2 452.9 L1453.1 456.1 L1457.9 455.2 L1462.7 450.4 L1467.5 454.4 L1472.4 450.8 L1477.2 455.2 L1482 455.2 L1486.8 449.1 L1491.6 449.9 L1496.5 450.4 L1501.3 450.8 L1506.1 457.4 L1510.9 449.6 L1515.8 449.1 L1520.6 449.1 L1525.4 452.1 L1530.2 454.9 L1535 449.9 L1539.9 449.1 L1544.7 454.1 L1549.5 454.1 L1554.3 453.6 L1559.2 452.7 L1564 452.7 L1568.8 452.9 L1573.6 453.2 L1578.4 449.6 L1583.3 455.4 L1588.1 451.6 L1592.9 450.8 L1597.7 451.2 L1602.6 451.1 L1607.4 449.4 L1612.2 450.4 L1617 449.4 L1621.8 456.6 L1626.7 450.4 L1631.5 449.4 L1636.3 452.1 L1641.1 449.6 L1646 451.6 L1650.8 452.9 L1655.6 450.8 L1660.4 451.1 L1665.2 450.3 L1670.1 450.8 L1674.9 459.1 L1679.7 452.1 L1684.5 449.1 L1689.4 449.9 L1694.2 451.2 L1699 452.1 L1703.8 452.4 L1708.6 450.8 L1713.5 453.2 L1718.3 452.1 L1723.1 451.1 L1727.9 456.6 L1732.8 449.6 L1737.6 449.9 L1742.4 452.7 L1747.2 451.6 L1752 448.8 L1756.9 449.9 L1761.7 451.1 L1766.5 455.2 L1771.3 452.4 L1776.2 449.6 L1781 457.4 L1785.8 450.4 L1790.6 453.6 L1795.4 453.2 L1800.3 451.6 L1805.1 449.9 L1809.9 451.2 L1814.7 454.1 L1819.6 454.4 L1824.4 450.8 L1829.2 450.8 L1829.2 651.1 L93.2 651.1 Z" fill="#EF843C" fill-opacity="0.104" stroke="none"/>
<path d="M93.2 526.2 L98 530.7 L102.8 528.7 L107.7 529.4 L112.5 525.7 L117.3 530.2 L122.1 518.3 L127 526.9 L131.8 540.2 L136.6 534.5 L141.4 529.6 L146.2 537.4 L151.1 520.8 L155.9 516.6 L160.7 514.9 L165.5 538.2 L170.4 537.7 L175.2 534 L180 536.5 L184.8 542.4 L189.6 534.9 L194.5 527.4 L199.3 542.9 L204.1 536.5 L208.9 539.4 L213.8 532.4 L218.6 533.7 L223.4 531.2 L228.2 530.4 L233 539.9 L237.9 530.2 L242.7 529.6 L247.5 528.6 L252.3 534 L257.2 533.7 L262 534.9 L266.8 531.1 L271.6 533.6 L276.4 538.7 L281.3 540.2 L286.1 541.9 L290.9 536.5 L295.7 535.4 L300.6 530.4 L305.4 540.7 L310.2 527.4 L315 531.6 L319.8 530.4 L324.7 528.6 L329.5 536.5 L334.3 534.9 L339.1 534.5 L344 531.6 L348.8 532.4 L353.6 540.7 L358.4 538.7 L363.2 531.6 L368.1 532.4 L372.9 531.6 L377.7 536.5 L382.5 534.5 L387.4 533.2 L392.2 547.8 L397 537.2 L401.8 532.1 L406.6 527.9 L411.5 527.4 L416.3 536.5 L421.1 536.1 L425.9 529.7 L430.8 536.1 L435.6 533 L440.4 535.4 L445.2 529.7 L450 534.9 L454.9 531.4 L459.7 544.7 L464.5 534.2 L469.3 531.4 L474.2 539.6 L479 534.2 L483.8 536.5 L488.6 542.6 L493.4 532.6 L498.3 536.1 L503.1 534.9 L507.9 532.6 L512.7 533.3 L517.6 525.5 L522.4 533 L527.2 526.7 L532 528.3 L536.8 541.2 L541.7 535.6 L546.5 586 L551.3 587.2 L556.1 572.9 L561 570.5 L565.8 559.5 L570.6 545.4 L575.4 575.4 L580.2 568.2 L585.1 577.5 L589.9 556 L594.7 574 L599.5 575.2 L604.4 567 L609.2 573.6 L614 581.3 L618.8 571.2 L623.6 578.2 L628.5 580.1 L633.3 576.6 L638.1 559 L642.9 566.5 L647.8 568.2 L652.6 556.5 L657.4 566.1 L662.2 567 L667 567.2 L671.9 559.5 L676.7 464 L681.5 477.3 L686.3 464.4 L691.2 474.5 L696 459.4 L700.8 456.2 L705.6 464.5 L710.4 459.1 L715.3 456.9 L720.1 453.2 L724.9 463.7 L729.7 455.7 L734.6 487.3 L739.4 457.4 L744.2 467.4 L749 454.6 L753.8 453.7 L758.7 453.7 L763.5 456.9 L768.3 451.6 L773.1 451.6 L778 453.2 L782.8 453.2 L787.6 451.1 L792.4 451.6 L797.2 460.7 L802.1 451.2 L806.9 453.6 L811.7 450.8 L816.5 464 L821.4 454.1 L826.2 450.8 L831 457.4 L835.8 454.1 L840.6 451.1 L845.5 454.6 L850.3 452.4 L855.1 460.4 L859.9 454.1 L864.8 448.3 L869.6 452.1 L874.4 463.7 L879.2 452.7 L884 450.8 L888.9 453.2 L893.7 451.6 L898.5 451.6 L903.3 455.7 L908.2 461.6 L913 451.1 L917.8 454.6 L922.6 463.6 L927.4 455.7 L932.3 450.8 L937.1 465.4 L941.9 454.9 L946.7 456.6 L951.6 462.9 L956.4 452.7 L961.2 451.2 L966 455.4 L970.8 449.6 L975.7 451.6 L980.5 448.6 L985.3 451.1 L990.1 451.9 L995 456.6 L999.8 461.1 L1004.6 454.6 L1009.4 455.7 L1014.2 462.9 L1019.1 460.7 L1023.9 455.7 L1028.7 468.5 L1033.5 455.4 L1038.4 456.9 L1043.2 462.4 L1048 454.4 L1052.8 453.2 L1057.6 452.7 L1062.5 453.7 L1067.3 452.7 L1072.1 451.6 L1076.9 454.4 L1081.8 451.2 L1086.6 455.4 L1091.4 463.6 L1096.2 456.6 L1101 454.6 L1105.9 464 L1110.7 449.9 L1115.5 451.9 L1120.3 465.2 L1125.2 450.4 L1130 448.6 L1134.8 463.2 L1139.6 453.2 L1144.4 452.4 L1149.3 462.9 L1154.1 449.9 L1158.9 449.9 L1163.7 465.4 L1168.6 454.9 L1173.4 450.8 L1178.2 454.6 L1183 451.1 L1187.8 452.9 L1192.7 457.4 L1197.5 449.9 L1202.3 449.9 L1207.1 457.9 L1212 454.9 L1216.8 466 L1221.6 449.9 L1226.4 449.1 L1231.2 456.6 L1236.1 449.9 L1240.9 452.9 L1245.7 461.1 L1250.5 449.6 L1255.4 450.8 L1260.2 455.2 L1265 451.2 L1269.8 451.1 L1274.6 451.1 L1279.5 448.6 L1284.3 452.4 L1289.1 450.4 L1293.9 449.4 L1298.8 456.1 L1303.6 450.3 L1308.4 451.1 L1313.2 451.6 L1318 449.9 L1322.9 449.9 L1327.7 450.8 L1332.5 454.6 L1337.3 458.2 L1342.2 449.9 L1347 449.6 L1351.8 451.1 L1356.6 452.4 L1361.4 452.4 L1366.3 449.4 L1371.1 448.3 L1375.9 454.4 L1380.7 451.6 L1385.6 452.7 L1390.4 452.1 L1395.2 449.9 L1400 451.1 L1404.8 452.1 L1409.7 451.6 L1414.5 452.9 L1419.3 447.4 L1424.1 449.1 L1429 457.4 L1433.8 452.7 L1438.6 448.6 L1443.4 450.3 L1448.2 452.9 L1453.1 456.1 L1457.9 455.2 L1462.7 450.4 L1467.5 454.4 L1472.4 450.8 L1477.2 455.2 L1482 455.2 L1486.8 449.1 L1491.6 449.9 L1496.5 450.4 L1501.3 450.8 L1506.1 457.4 L1510.9 449.6 L1515.8 449.1 L1520.6 449.1 L1525.4 452.1 L1530.2 454.9 L1535 449.9 L1539.9 449.1 L1544.7 454.1 L1549.5 454.1 L1554.3 453.6 L1559.2 452.7 L1564 452.7 L1568.8 452.9 L1573.6 453.2 L1578.4 449.6 L1583.3 455.4 L1588.1 451.6 L1592.9 450.8 L1597.7 451.2 L1602.6 451.1 L1607.4 449.4 L1612.2 450.4 L1617 449.4 L1621.8 456.6 L1626.7 450.4 L1631.5 449.4 L1636.3 452.1 L1641.1 449.6 L1646 451.6 L1650.8 452.9 L1655.6 450.8 L1660.4 451.1 L1665.2 450.3 L1670.1 450.8 L1674.9 459.1 L1679.7 452.1 L1684.5 449.1 L1689.4 449.9 L1694.2 451.2 L1699 452.1 L1703.8 452.4 L1708.6 450.8 L1713.5 453.2 L1718.3 452.1 L1723.1 451.1 L1727.9 456.6 L1732.8 449.6 L1737.6 449.9 L1742.4 452.7 L1747.2 451.6 L1752 448.8 L1756.9 449.9 L1761.7 451.1 L1766.5 455.2 L1771.3 452.4 L1776.2 449.6 L1781 457.4 L1785.8 450.4 L1790.6 453.6 L1795.4 453.2 L1800.3 451.6 L1805.1 449.9 L1809.9 451.2 L1814.7 454.1 L1819.6 454.4 L1824.4 450.8 L1829.2 450.8" stroke="#EF843C" stroke-width="1.5"/>
</g>
<g stroke="#c8c8c8" stroke-opacity="0.23" stroke-width="1.3">
<line x1="93.8" x2="1830.5" y1="64.8" y2="64.8"/>
<line x1="93.8" x2="1830.5" y1="147.4" y2="147.4"/>
<line x1="93.8" x2="1830.5" y1="231.3" y2="231.3"/>
<line x1="93.8" x2="1830.5" y1="315.3" y2="315.3"/>
<line x1="93.8" x2="1830.5" y1="399.2" y2="399.2"/>
<line x1="93.8" x2="1830.5" y1="483.2" y2="483.2"/>
<line x1="93.8" x2="1830.5" y1="567.2" y2="567.2"/>
<line x1="93.8" x2="1830.5" y1="651.1" y2="651.1"/>
<line x1="94.3" x2="94.3" y1="64.3" y2="651.6"/>
<line x1="238.2" x2="238.2" y1="64.3" y2="651.6"/>
<line x1="382.3" x2="382.3" y1="64.3" y2="651.6"/>
<line x1="527.7" x2="527.7" y1="64.3" y2="651.6"/>
<line x1="671.8" x2="671.8" y1="64.3" y2="651.6"/>
<line x1="817.3" x2="817.3" y1="64.3" y2="651.6"/>
<line x1="961.2" x2="961.2" y1="64.3" y2="651.6"/>
<line x1="1105.3" x2="1105.3" y1="64.3" y2="651.6"/>
<line x1="1250.7" x2="1250.7" y1="64.3" y2="651.6"/>
<line x1="1394.8" x2="1394.8" y1="64.3" y2="651.6"/>
<line x1="1540.2" x2="1540.2" y1="64.3" y2="651.6"/>
<line x1="1684.1" x2="1684.1" y1="64.3" y2="651.6"/>
<line x1="1830" x2="1830" y1="64.3" y2="651.6"/>
</g>
<g transform="translate(619 348) rotate(-45)" fill="#ffffff" fill-opacity="0.15" font-family="Liberation Sans, sans-serif" font-size="20" font-weight="bold"><text x="0" y="0" textLength="52.5" lengthAdjust="spacingAndGlyphs">jinxianqi</text><text x="67.5" y="0" textLength="84.5" lengthAdjust="spacingAndGlyphs">AT10357-DLP</text></g>
<g transform="translate(1643.5 348) rotate(-45)" fill="#ffffff" fill-opacity="0.15" font-family="Liberation Sans, sans-serif" font-size="20" font-weight="bold"><text x="0" y="0" textLength="52.5" lengthAdjust="spacingAndGlyphs">jinxianqi</text><text x="67.5" y="0" textLength="84.5" lengthAdjust="spacingAndGlyphs">AT10357-DLP</text></g>
<g fill="#ff0000" font-family="'Liberation Serif', 'Noto Serif CJK SC', serif">
<text x="651.6 686.9 722.2 757.5" y="67" font-size="36">修改代码</text>
<text x="954.8 990.4" y="133" font-size="36">执行</text>
<text x="1027 1044.8 1062.4 1084 1099.6 1117.7 1135" y="131.5" font-size="31">analyze</text>
</g>
<line x1="677.4" y1="71" x2="678.3" y2="158" stroke="#ff0000" stroke-width="2.3"/>
<polygon points="670.9,156.7 686.1,156.7 678.4,168.3" fill="#ff0000"/>
<rect x="883.7" y="169.65" width="412.85" height="481.75" fill="none" stroke="#ff0000" stroke-width="2.2"/>
</svg>
<div class="title">Duration</div>
<div class="yl" style="top:54px">250 ms</div>
<div class="yl" style="top:138px">125 ms</div>
<div class="yl" style="top:222px">63 ms</div>
<div class="yl" style="top:306px">31 ms</div>
<div class="yl" style="top:390px">16 ms</div>
<div class="yl" style="top:473px">8 ms</div>
<div class="yl" style="top:557px">4 ms</div>
<div class="yl" style="top:641px">2 ms</div>
<div class="xl" style="left:53.5px">20:00</div>
<div class="xl" style="left:197.4px">21:00</div>
<div class="xl" style="left:341.5px">22:00</div>
<div class="xl" style="left:486.9px">23:00</div>
<div class="xl" style="left:631px">00:00</div>
<div class="xl" style="left:776.5px">01:00</div>
<div class="xl" style="left:920.4px">02:00</div>
<div class="xl" style="left:1064.5px">03:00</div>
<div class="xl" style="left:1209.9px">04:00</div>
<div class="xl" style="left:1354px">05:00</div>
<div class="xl" style="left:1499.4px">06:00</div>
<div class="xl" style="left:1643.3px">07:00</div>
<div class="xl" style="left:1789.2px">08:00</div>
<div class="sw" style="left:43px;background:#7EB26D"></div><div class="lg" style="left:66.9px">999</div>
<div class="sw" style="left:109.7px;background:#EAB839"></div><div class="lg" style="left:133.4px">99</div>
<div class="sw" style="left:166.9px;background:#6ED0E0"></div><div class="lg" style="left:190.9px">95</div>
<div class="sw" style="left:224.2px;background:#EF843C"></div><div class="lg" style="left:248px">80</div>
</body></html>
